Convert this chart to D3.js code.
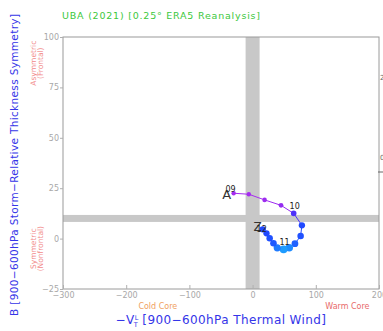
<!DOCTYPE html>
<html>
<head>
<meta charset="utf-8">
<script src="https://cdn.jsdelivr.net/npm/d3@7"></script>
<style>
  body { margin: 0; background: #fff; }
  svg { display: block; font-family: "DejaVu Sans", sans-serif; }
</style>
</head>
<body>
<svg id="chart" width="383" height="331"></svg>
<script>
// track of the phase diagram, 6-hourly points
const vt = [-30, -6, 19, 45, 65, 78, 76, 67, 58, 49, 39, 33, 27, 22, 16]
const bParam = [22.5, 22, 19.2, 16.5, 12.5, 6.6, 1.3, -2.5, -4.5, -5.3, -4.6, -2.3, 0.2, 2.6, 4.6]
const wind = [25, 25, 26, 27, 33, 38, 39, 41, 46, 48, 44, 40, 39, 38, 38]
const hourLabels = ['09', '', '', '', '10', '', '', '', '', '11', '', '', '', '', '12']

const xTicks = [-300, -200, -100, 0, 100, 200]
const yTicks = [-25, 0, 25, 50, 75, 100]
const vtThreshold = 0
const bThreshold = 10

const margin = { left: 63, right: 4, top: 37, bottom: 42 }
const W = 383
const H = 331

const svg = d3.select('#chart')

const x = d3.scaleLinear().domain([-300, 200]).range([margin.left, W - margin.right])
const y = d3.scaleLinear().domain([-25, 100]).range([H - margin.bottom, margin.top])

const color = d3.scaleLinear()
  .domain([25, 30, 36, 48])
  .range(['#a52cf0', '#7b2cf2', '#2038ff', '#1e9cff'])
const radius = d3.scaleLinear().domain([25, 48]).range([2.2, 3.9])

// threshold bands
svg.append('rect')
  .attr('x', x(vtThreshold) - 7)
  .attr('y', y(100))
  .attr('width', 14)
  .attr('height', y(-25) - y(100))
  .attr('fill', '#c8c8c8')
svg.append('rect')
  .attr('x', x(-300))
  .attr('y', y(bThreshold) - 3.5)
  .attr('width', x(200) - x(-300))
  .attr('height', 7)
  .attr('fill', '#c8c8c8')

// frame
svg.append('rect')
  .attr('x', x(-300))
  .attr('y', y(100))
  .attr('width', x(200) - x(-300))
  .attr('height', y(-25) - y(100))
  .attr('fill', 'none')
  .attr('stroke', '#9a9a9a')
  .attr('stroke-width', 1)

// axes
svg.append('g')
  .attr('transform', `translate(0,${y(-25)})`)
  .call(d3.axisBottom(x).tickValues(xTicks).tickSizeInner(-4).tickSizeOuter(0).tickPadding(3)
    .tickFormat(d => d < 0 ? '−' + Math.abs(d) : d))
svg.append('g')
  .attr('transform', `translate(${x(-300)},0)`)
  .call(d3.axisLeft(y).tickValues(yTicks).tickSize(3).tickSizeOuter(0).tickPadding(1)
    .tickFormat(d => d < 0 ? '−' + Math.abs(d) : d))
svg.selectAll('.domain').remove()
svg.selectAll('.tick line').attr('stroke', '#b0b0b0')
svg.selectAll('.tick text')
  .attr('fill', '#a8a8a8')
  .attr('font-size', 8)
  .attr('font-family', '"DejaVu Sans", sans-serif')

// track
const pts = vt.map((v, i) => ({ vt: v, b: bParam[i], w: wind[i], lab: hourLabels[i], i }))
for (let i = 0; i < pts.length - 1; i++) {
  svg.append('line')
    .attr('x1', x(pts[i].vt)).attr('y1', y(pts[i].b))
    .attr('x2', x(pts[i + 1].vt)).attr('y2', y(pts[i + 1].b))
    .attr('stroke', color(pts[i].w))
    .attr('stroke-width', 1)
}
svg.selectAll('circle.pt')
  .data(pts)
  .join('circle')
  .attr('class', 'pt')
  .attr('cx', d => x(d.vt))
  .attr('cy', d => y(d.b))
  .attr('r', d => radius(d.w))
  .attr('fill', d => color(d.w))

// start / end markers
const first = pts[0]
const last = pts[pts.length - 1]
svg.append('text')
  .attr('x', x(first.vt) - 7)
  .attr('y', y(first.b) + 6)
  .attr('text-anchor', 'middle')
  .attr('font-size', 13)
  .attr('fill', '#333')
  .text('A')
svg.append('text')
  .attr('x', x(last.vt) - 5)
  .attr('y', y(last.b) + 2)
  .attr('text-anchor', 'middle')
  .attr('font-size', 12)
  .attr('fill', '#333')
  .text('Z')

// hour labels (the end label sits under the Z, like the original)
svg.selectAll('text.hr')
  .data(pts.filter(d => d.lab))
  .join('text')
  .attr('class', 'hr')
  .attr('x', d => d.i === 0 ? x(d.vt) - 3 : d.i === pts.length - 1 ? x(d.vt) - 1 : x(d.vt) + 1)
  .attr('y', d => d.i === 0 ? y(d.b) - 1 : d.i === pts.length - 1 ? y(d.b) + 3 : y(d.b) - 4)
  .attr('text-anchor', 'middle')
  .attr('font-size', 8)
  .attr('fill', '#222')
  .text(d => d.lab)

// titles
svg.append('text')
  .attr('x', 62)
  .attr('y', 19)
  .attr('font-size', 9.5)
  .attr('fill', '#3cc83c')
  .attr('textLength', 198)
  .text('UBA (2021) [0.25° ERA5 Reanalysis]')

svg.append('text')
  .attr('transform', `translate(18,${(y(100) + y(-25)) / 2 + 2}) rotate(-90)`)
  .attr('text-anchor', 'middle')
  .attr('font-size', 10.5)
  .attr('fill', '#3535e8')
  .attr('textLength', 302)
  .text('B [900−600hPa Storm−Relative Thickness Symmetry]')

const xt = svg.append('text')
  .attr('x', (x(-300) + x(200)) / 2)
  .attr('y', 324)
  .attr('text-anchor', 'middle')
  .attr('font-size', 12)
  .attr('letter-spacing', 0.4)
  .attr('fill', '#3535e8')
xt.append('tspan').text('−V')
xt.append('tspan').attr('font-size', 6.5).attr('dy', -4).text('L')
xt.append('tspan').attr('font-size', 6.5).attr('dx', -4).attr('dy', 7).text('T')
xt.append('tspan').attr('dy', -3).text(' [900−600hPa Thermal Wind]')

// region labels
const redLabel = (lines, cy) => {
  lines.forEach((t, i) => {
    svg.append('text')
      .attr('transform', `translate(${36 + i * 7},${cy}) rotate(-90)`)
      .attr('text-anchor', 'middle')
      .attr('font-size', 7.5)
      .attr('fill', '#f28c8c')
      .text(t)
  })
}
redLabel(['Asymmetric', '(Frontal)'], y(87))
redLabel(['Symmetric', '(Nonfrontal)'], y(-5))

svg.append('text')
  .attr('x', x(-150))
  .attr('y', 309)
  .attr('text-anchor', 'middle')
  .attr('font-size', 8)
  .attr('fill', '#f0a060')
  .text('Cold Core')
svg.append('text')
  .attr('x', x(150))
  .attr('y', 309)
  .attr('text-anchor', 'middle')
  .attr('font-size', 8)
  .attr('fill', '#e86a6a')
  .text('Warm Core')

// fragments of the neighbouring panel at the right edge
svg.append('text').attr('x', 380).attr('y', 80).attr('font-size', 7).attr('fill', '#666').text('2')
svg.append('text').attr('x', 380).attr('y', 160).attr('font-size', 7).attr('fill', '#666').text('0')
svg.append('line').attr('x1', 378).attr('x2', 383).attr('y1', 172).attr('y2', 172).attr('stroke', '#666')
</script>
</body>
</html>
